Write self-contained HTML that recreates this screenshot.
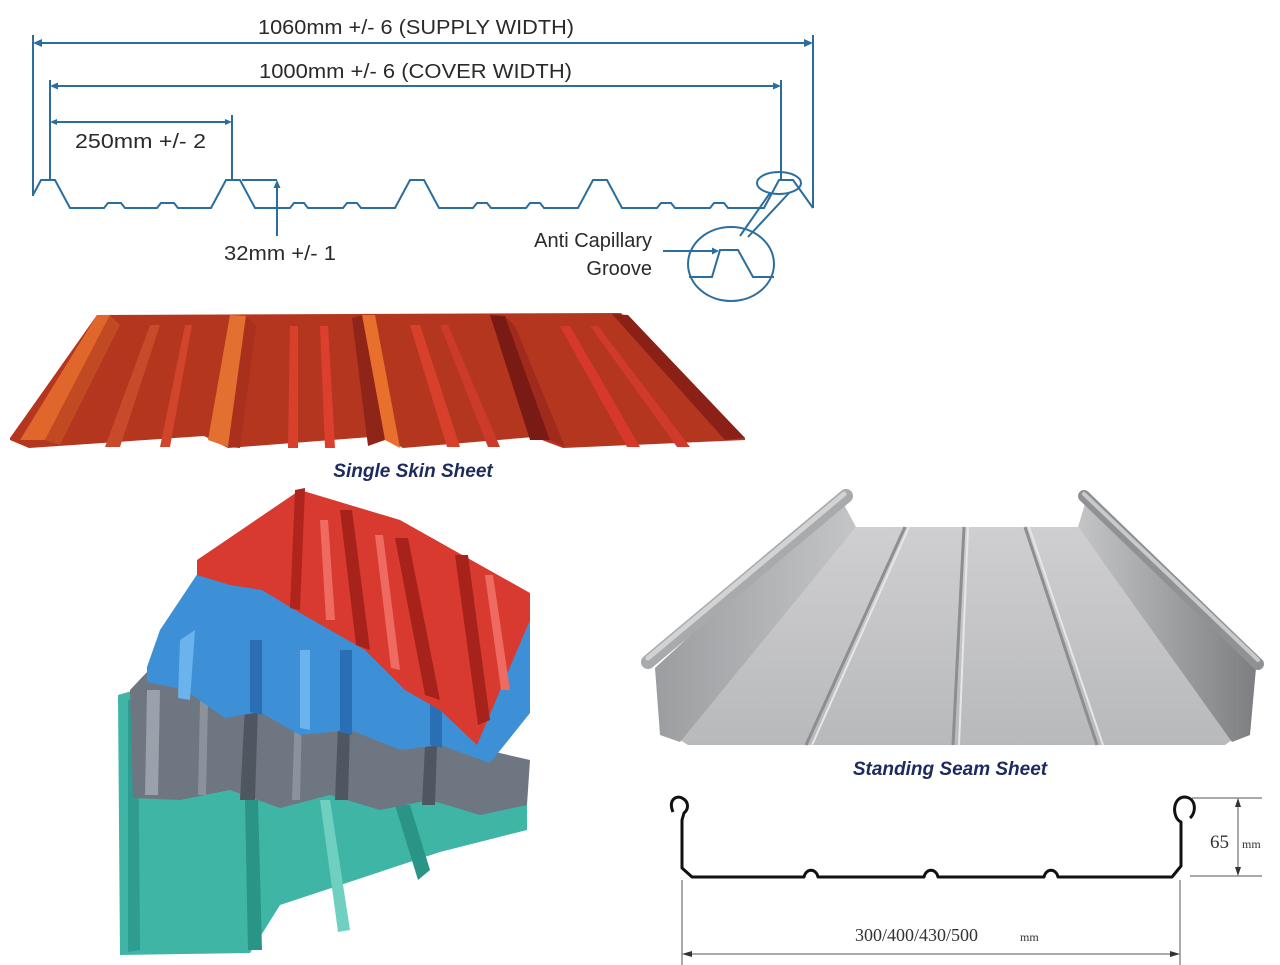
<!DOCTYPE html>
<html><head><meta charset="utf-8"><style>
html,body{margin:0;padding:0;background:#fff;}
svg{display:block;}
</style></head><body>
<svg width="1280" height="965" viewBox="0 0 1280 965" xmlns="http://www.w3.org/2000/svg">
<defs>
<linearGradient id="gs" x1="0" y1="0" x2="0" y2="1"><stop offset="0" stop-color="#cfcfd1"/><stop offset="1" stop-color="#b8b9bb"/></linearGradient>
<linearGradient id="gw" x1="0" y1="0" x2="1" y2="0"><stop offset="0" stop-color="#9c9da0"/><stop offset="1" stop-color="#c4c5c7"/></linearGradient>
<linearGradient id="gw2" x1="0" y1="0" x2="1" y2="0"><stop offset="0" stop-color="#c4c5c7"/><stop offset="1" stop-color="#7d7e81"/></linearGradient>
</defs>
<rect width="1280" height="965" fill="#fff"/>

<!-- ===== Top profile diagram ===== -->
<g stroke="#2b6d9c" stroke-width="2" fill="none">
  <line x1="33" y1="35" x2="33" y2="196"/>
  <line x1="813" y1="35" x2="813" y2="208"/>
  <line x1="38" y1="43" x2="808" y2="43"/>
  <line x1="50" y1="80" x2="50" y2="180"/>
  <line x1="781" y1="80" x2="781" y2="180"/>
  <line x1="55" y1="86" x2="776" y2="86"/>
  <line x1="232" y1="115" x2="232" y2="180"/>
  <line x1="55" y1="122" x2="227" y2="122"/>
  <path d="M33,195 L41,180 L55,180 L70,208 L104,208 L108,203 L121,203 L125,208 L157,208 L161,203 L174,203 L178,208 L211,208 L226,180 L240,180 L255,208 L290,208 L294,203 L304,203 L308,208 L343,208 L347,203 L357,203 L361,208 L395,208 L410,180 L424,180 L439,208 L473,208 L477,203 L487,203 L491,208 L526,208 L530,203 L540,203 L544,208 L578,208 L593,180 L607,180 L622,208 L657,208 L661,203 L671,203 L675,208 L710,208 L714,203 L724,203 L728,208 L764,208 L779,180 L793,180 L813,208"/>
  <line x1="242" y1="180" x2="277" y2="180"/>
  <line x1="277" y1="185" x2="277" y2="236"/>
  <ellipse cx="779" cy="183" rx="22" ry="11"/>
  <line x1="770" y1="193" x2="740" y2="236"/>
  <line x1="789" y1="193" x2="748" y2="237"/>
  <ellipse cx="731" cy="264" rx="43" ry="37"/>
  <path d="M689,277 L712,277 L720,250 L738,250 L753,277 L774,277"/>
  <line x1="663" y1="251" x2="714" y2="251"/>
</g>
<g fill="#2b6d9c">
  <path d="M33,43 l9,-4 v8z"/><path d="M813,43 l-9,-4 v8z"/>
  <path d="M50,86 l8,-3.5 v7z"/><path d="M781,86 l-8,-3.5 v7z"/>
  <path d="M50,122 l7,-3 v6z"/><path d="M232,122 l-7,-3 v6z"/>
  <path d="M277,180 l-3.5,8 h7z"/>
  <path d="M719,251 l-7,-3.5 v7z"/>
</g>
<g font-family="Liberation Sans, sans-serif" font-size="20" fill="#2a2a2a">
  <text x="258" y="34" textLength="316" lengthAdjust="spacingAndGlyphs">1060mm +/- 6 (SUPPLY WIDTH)</text>
  <text x="259" y="78" textLength="313" lengthAdjust="spacingAndGlyphs">1000mm +/- 6 (COVER WIDTH)</text>
  <text x="75" y="148" textLength="131" lengthAdjust="spacingAndGlyphs">250mm +/- 2</text>
  <text x="224" y="260" textLength="112" lengthAdjust="spacingAndGlyphs">32mm +/- 1</text>
  <text x="652" y="247" text-anchor="end">Anti Capillary</text>
  <text x="652" y="275" text-anchor="end">Groove</text>
</g>

<!-- ===== Single skin red sheet ===== -->
<g>
  <path d="M10,438 L97,315 L621,313 L745,438 L723,437 L745,438 L745,440 L563,448 L534,437 L403,448 L383,436 L228,448 L204,436 L29,448 L10,440 Z" fill="#b5361f"/>
  <!-- rib faces -->
  <path d="M97,315 L110,315 L45,440 L20,440 Z" fill="#e0662c"/>
  <path d="M110,315 L120,325 L60,445 L45,440 Z" fill="#c24a22"/>
  <path d="M230,315 L246,316 L228,447 L208,440 Z" fill="#e37030"/>
  <path d="M246,316 L256,326 L240,448 L228,447 Z" fill="#a8301c"/>
  <path d="M362,315 L375,315 L400,448 L385,440 Z" fill="#e8702c"/>
  <path d="M352,318 L362,315 L385,440 L368,446 Z" fill="#8f2418"/>
  <path d="M490,315 L505,316 L550,440 L530,440 Z" fill="#7a1a14"/>
  <path d="M505,316 L515,326 L565,447 L550,440 Z" fill="#a02a1c"/>
  <path d="M612,314 L628,315 L745,438 L725,440 Z" fill="#8a2016"/>
  <!-- panel stripes -->
  <path d="M150,325 L160,325 L120,447 L105,447 Z" fill="#c84a2a"/>
  <path d="M185,325 L192,325 L170,447 L160,447 Z" fill="#d0452b"/>
  <path d="M290,326 L298,326 L298,448 L288,448 Z" fill="#d8402c"/>
  <path d="M320,326 L328,326 L335,448 L325,448 Z" fill="#dd3f2e"/>
  <path d="M410,325 L420,325 L460,447 L447,447 Z" fill="#d8402c"/>
  <path d="M440,325 L448,325 L500,447 L488,447 Z" fill="#cc3a2a"/>
  <path d="M560,326 L570,326 L640,447 L627,447 Z" fill="#d8382c"/>
  <path d="M590,326 L598,326 L690,447 L677,447 Z" fill="#cf3a2a"/>
</g>
<text x="413" y="477" text-anchor="middle" font-family="Liberation Sans, sans-serif" font-size="19" font-weight="bold" font-style="italic" fill="#1d2a5e">Single Skin Sheet</text>

<!-- ===== Stacked coloured sheets ===== -->
<g>
  <!-- teal -->
  <path d="M118,695 L142,688 L527,798 L527,830 L440,852 L280,905 L250,953 L120,955 Z" fill="#3fb5a6"/>
  <path d="M128,700 L138,698 L140,950 L128,952 Z" fill="#2e9c8e"/>
  <path d="M245,800 L258,800 L262,950 L248,950 Z" fill="#2a9486"/>
  <path d="M320,800 L330,800 L350,930 L338,932 Z" fill="#6fd0c2"/>
  <path d="M395,805 L410,805 L430,870 L418,880 Z" fill="#2a9486"/>
  <!-- gray -->
  <path d="M130,690 L147,672 L530,760 L527,805 L480,815 L430,800 L380,810 L330,795 L280,808 L230,790 L180,800 L133,798 Z" fill="#6e7682"/>
  <path d="M147,690 L160,690 L158,795 L145,795 Z" fill="#9aa1ab"/>
  <path d="M245,705 L258,705 L255,800 L240,800 Z" fill="#4f5660"/>
  <path d="M338,725 L350,725 L348,800 L335,800 Z" fill="#4f5660"/>
  <path d="M425,745 L437,745 L435,805 L422,805 Z" fill="#4f5660"/>
  <path d="M200,700 L208,700 L206,795 L198,795 Z" fill="#8b929c"/>
  <path d="M295,712 L302,712 L300,800 L292,800 Z" fill="#8b929c"/>
  <!-- blue -->
  <path d="M147,667 L160,630 L200,570 L530,605 L530,713 L490,763 L440,745 L400,750 L350,730 L300,735 L260,712 L225,718 L185,690 L147,682 Z" fill="#3d8fd6"/>
  <path d="M180,640 L195,630 L190,700 L178,698 Z" fill="#6ab3ec"/>
  <path d="M250,640 L262,640 L262,715 L250,712 Z" fill="#2a6fb5"/>
  <path d="M340,650 L352,650 L352,735 L340,732 Z" fill="#2a6fb5"/>
  <path d="M300,650 L310,650 L310,730 L300,728 Z" fill="#6ab3ec"/>
  <path d="M430,670 L442,670 L442,748 L430,745 Z" fill="#2a6fb5"/>
  <!-- red -->
  <path d="M197,560 L300,490 L400,520 L530,593 L530,620 L477,745 L440,710 L405,690 L365,650 L330,630 L295,610 L262,590 L230,585 L197,575 Z" fill="#d93a30"/>
  <path d="M295,490 L305,488 L300,610 L290,608 Z" fill="#b0241e"/>
  <path d="M340,510 L352,510 L370,650 L356,645 Z" fill="#a8221c"/>
  <path d="M395,538 L408,538 L440,700 L425,695 Z" fill="#a8221c"/>
  <path d="M455,555 L468,555 L490,720 L478,725 Z" fill="#a8221c"/>
  <path d="M320,520 L328,520 L335,620 L326,620 Z" fill="#ef6a60"/>
  <path d="M375,535 L383,535 L400,670 L391,668 Z" fill="#ef6a60"/>
  <path d="M485,575 L493,575 L510,690 L501,690 Z" fill="#ef6a60"/>
</g>

<!-- ===== Standing seam sheet ===== -->
<g>
  <path d="M856,527 L1078,527 L1232,740 L1225,745 L688,745 L680,740 Z" fill="url(#gs)"/>
  <path d="M840,497 L856,527 L680,742 L660,735 L655,668 Z" fill="url(#gw)"/>
  <path d="M1087,497 L1078,527 L1232,742 L1250,735 L1256,668 Z" fill="url(#gw2)"/>
  <g stroke="#8d8e91" stroke-width="3" fill="none">
    <line x1="905" y1="527" x2="806" y2="745"/>
    <line x1="964" y1="527" x2="953" y2="745"/>
    <line x1="1025" y1="527" x2="1097" y2="745"/>
  </g>
  <g stroke="#e6e6e8" stroke-width="2" fill="none">
    <line x1="909" y1="527" x2="812" y2="745"/>
    <line x1="968" y1="527" x2="959" y2="745"/>
    <line x1="1029" y1="527" x2="1103" y2="745"/>
  </g>
  <line x1="846" y1="496" x2="648" y2="662" stroke="#a9aaac" stroke-width="14" stroke-linecap="round"/>
  <line x1="844" y1="494" x2="648" y2="658" stroke="#d2d3d5" stroke-width="5" stroke-linecap="round"/>
  <line x1="1084" y1="496" x2="1258" y2="664" stroke="#909194" stroke-width="12" stroke-linecap="round"/>
  <line x1="1084" y1="494" x2="1258" y2="660" stroke="#c9cacc" stroke-width="4" stroke-linecap="round"/>
</g>
<text x="950" y="775" text-anchor="middle" font-family="Liberation Sans, sans-serif" font-size="19" font-weight="bold" font-style="italic" fill="#1d2a5e">Standing Seam Sheet</text>

<!-- ===== Standing seam profile ===== -->
<g stroke="#111" stroke-width="3" fill="none" stroke-linejoin="round">
  <path d="M673,812 C668,800 676,795 682,798 C690,802 688,810 684,813 L682,820 L682,868 L692,877 L804,877 C806,868 816,868 818,877 L924,877 C926,868 936,868 938,877 L1044,877 C1046,868 1056,868 1058,877 L1172,877 L1181,866 L1181,822 C1172,818 1172,798 1184,797 C1196,797 1197,812 1190,818"/>
</g>
<g stroke="#555" stroke-width="1" fill="none">
  <line x1="1192" y1="798" x2="1262" y2="798"/>
  <line x1="1190" y1="876" x2="1262" y2="876"/>
  <line x1="1238" y1="800" x2="1238" y2="874"/>
  <line x1="682" y1="880" x2="682" y2="965"/>
  <line x1="1180" y1="880" x2="1180" y2="965"/>
  <line x1="688" y1="954" x2="1174" y2="954"/>
</g>
<g fill="#333">
  <path d="M1238,798 l-3,9 h6z"/><path d="M1238,876 l-3,-9 h6z"/>
  <path d="M682,954 l10,-3 v6z"/><path d="M1180,954 l-10,-3 v6z"/>
</g>
<g font-family="Liberation Serif, serif" fill="#333">
  <text x="1210" y="848" font-size="19">65</text>
  <text x="1242" y="848" font-size="12">mm</text>
  <text x="855" y="941" font-size="18">300/400/430/500</text>
  <text x="1020" y="941" font-size="12">mm</text>
</g>
</svg>
</body></html>
